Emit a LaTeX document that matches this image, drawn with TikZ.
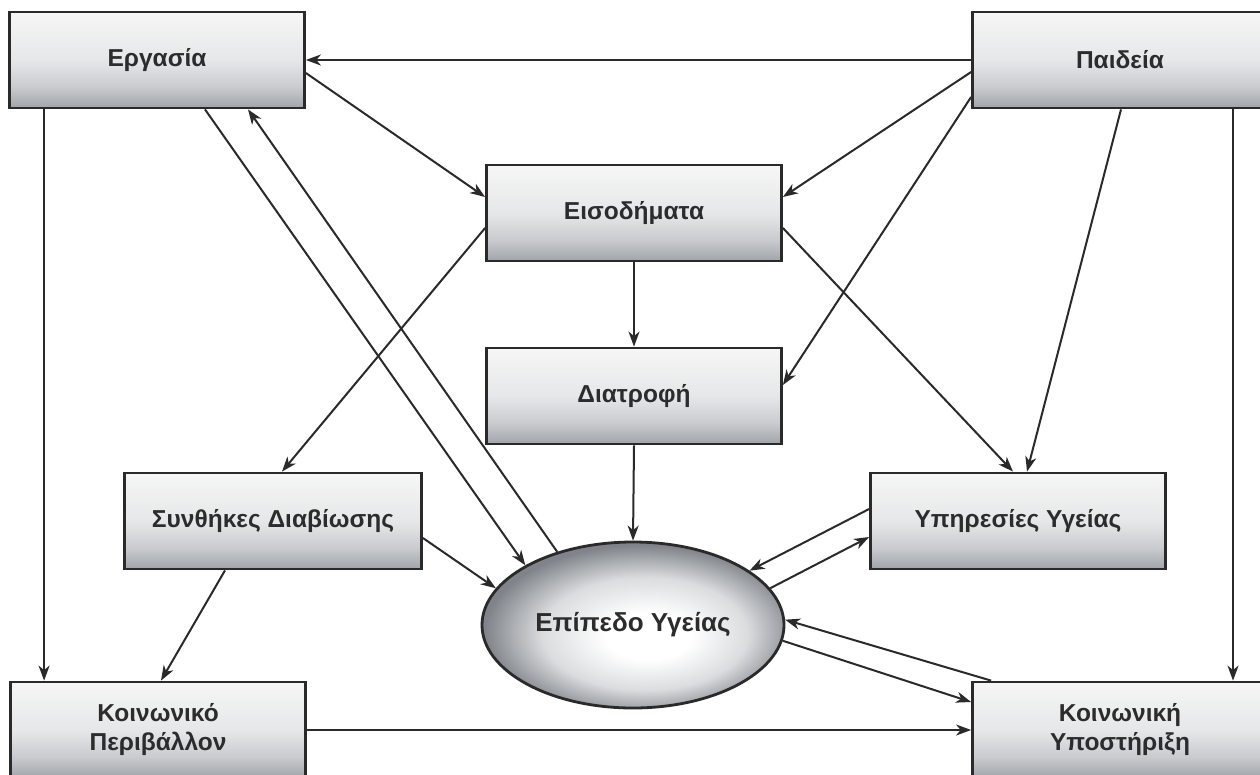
\documentclass[tikz,border=0pt]{standalone}
\usepackage{fontspec}
\setmainfont{Liberation Sans}
\usetikzlibrary{arrows.meta,shapes.geometric}
\definecolor{linec}{HTML}{2A2A2A}
\definecolor{boxbot}{HTML}{A0A4A9}
\definecolor{boxlow}{HTML}{C9CBCE}
\definecolor{boxmid}{HTML}{E6E7E8}
\definecolor{boxtop}{HTML}{F6F6F6}
\definecolor{ellout}{HTML}{80848A}
\definecolor{ellmid}{HTML}{DADCDE}
\definecolor{txtc}{HTML}{2C2C2C}
\pgfdeclareverticalshading{boxshade}{100bp}{color(0bp)=(boxbot); color(25bp)=(boxbot); color(36bp)=(boxlow); color(50bp)=(boxmid); color(75bp)=(boxtop); color(100bp)=(boxtop)}
\pgfdeclareradialshading{ellshade}{\pgfpoint{3bp}{-4bp}}{color(0bp)=(white); color(7bp)=(white); color(17bp)=(ellmid); color(26bp)=(ellout); color(50bp)=(ellout)}
\tikzset{
  box/.style={draw=linec, line width=2.8pt, shading=boxshade, rectangle, inner sep=0pt,
    minimum width=295pt, minimum height=96pt, text=txtc, align=center,
    font=\fontsize{24.5}{29}\selectfont\bfseries},
  oval/.style={draw=linec, line width=2.8pt, shading=ellshade, ellipse, inner sep=0pt,
    minimum width=302pt, minimum height=166pt, text=txtc,
    font=\fontsize{26}{30}\selectfont\bfseries},
  arr/.style={draw=linec, line width=2pt, -{Stealth[length=15pt,width=11pt,inset=4.5pt]}}
}
\begin{document}
\begin{tikzpicture}[x=1pt,y=-1pt]
\useasboundingbox (0,0) rectangle (1260,774);
\fill[white] (0,0) rectangle (1260,774);
\clip (0,0) rectangle (1260,774);
% nodes
\node[box] (erg) at (157,60) {Εργασία};
\node[box] (paid) at (1120,60) {Παιδεία};
\node[box] (eis) at (634,213) {Εισοδήματα};
\node[box] (diat) at (634,396) {Διατροφή};
\node[box, minimum width=297pt] (syn) at (273,521) {Συνθήκες Διαβίωσης};
\node[box] (ypi) at (1018,521) {Υπηρεσίες Υγείας};
\node[oval] (epi) at (633,625) {Επίπεδο Υγείας};
\node[box] (koin) at (158,730) {Κοινωνικό\\Περιβάλλον};
\node[box] (yps) at (1120,730) {Κοινωνική\\Υποστήριξη};
% connectors
\draw[arr] (paid.west) -- (erg.east);
\draw[arr] ([yshift=-13pt]erg.east) -- ([yshift=16pt]eis.west);
\draw[arr] ([yshift=-12pt]paid.west) -- ([yshift=16pt]eis.east);
\draw[arr] ([yshift=-37pt]paid.west) -- ([yshift=11pt]diat.east);
\draw[arr] ([xshift=1pt]paid.south) -- ([xshift=9pt]ypi.north);
\draw[arr] ([xshift=113pt]paid.south) -- ([xshift=113pt]yps.north);
\draw[arr] ([xshift=36pt]erg.south west) -- ([xshift=35pt]koin.north west);
\draw[arr] ([xshift=48pt]erg.south) -- (epi.151.6);
\draw[arr] (epi.136.9) -- ([xshift=91pt]erg.south);
\draw[arr] ([yshift=-15pt]eis.west) -- ([xshift=9pt]syn.north);
\draw[arr] (eis.south) -- (diat.north);
\draw[arr] ([yshift=-15pt]eis.east) -- ([xshift=-5pt]ypi.north);
\draw[arr] (diat.south) -- (epi.north);
\draw[arr] ([yshift=-17pt]syn.east) -- (epi.165);
\draw[arr] ([xshift=-48pt]syn.south) -- ([xshift=3pt]koin.north);
\draw[arr] ([yshift=12pt]ypi.west) -- (epi.25.2);
\draw[arr] (epi.15.3) -- ([yshift=-16pt]ypi.west);
\draw[arr] ([xshift=20pt]yps.north west) -- (epi.2);
\draw[arr] (epi.-6.8) -- ([yshift=28pt]yps.west);
\draw[arr] (koin.east) -- (yps.west);
\end{tikzpicture}
\end{document}
